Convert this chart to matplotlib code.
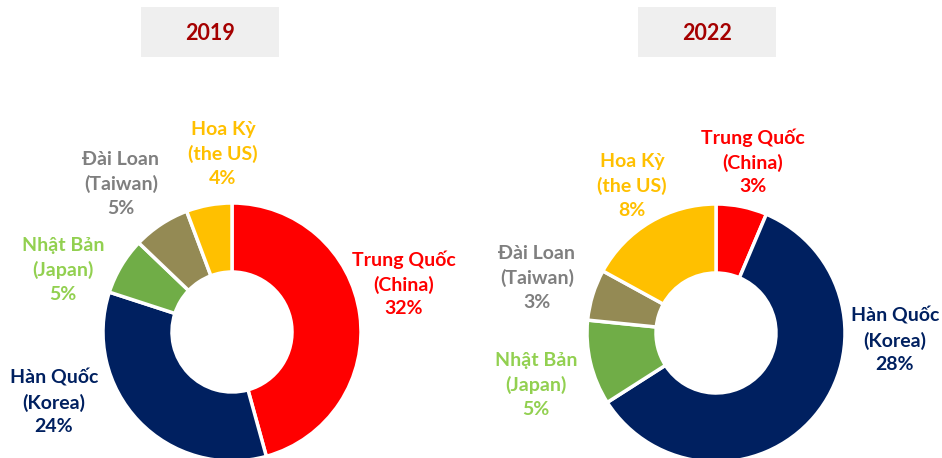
import matplotlib
matplotlib.use("Agg")
import matplotlib.pyplot as plt
from matplotlib.patches import Rectangle

plt.rcParams['font.family'] = ['Lato', 'Open Sans', 'DejaVu Sans']

# data
countries = ["Trung Quốc\n(China)", "Hàn Quốc\n(Korea)", "Nhật Bản\n(Japan)",
             "Đài Loan\n(Taiwan)", "Hoa Kỳ\n(the US)"]
share_2019 = [32, 24, 5, 5, 4]
share_2022 = [3, 28, 5, 3, 8]
years = ["2019", "2022"]

slice_colors = ["#FF0000", "#002060", "#70AD47", "#948A54", "#FFC000"]
label_colors = ["#FF0000", "#002060", "#92D050", "#7F7F7F", "#FFC000"]

# layout in pixel units (y measured from the bottom)
W, H = 942, 458
centers = [(232, H - 332), (716, H - 333)]
RADIUS = 129
HOLE = 60
# label centers (middle line) for each donut
label_pos_2019 = [(404, 284), (54, 402), (63, 270), (121, 184), (223, 154)]
label_pos_2022 = [(753, 162), (895, 340), (536, 385), (537, 278), (632, 186)]
title_boxes = [(141, 279), (638, 776)]


def draw_donut(ax, values, center, label_pos):
    ax.pie(values, colors=slice_colors, startangle=90, counterclock=False,
           center=center, radius=RADIUS, frame=True,
           wedgeprops=dict(width=RADIUS - HOLE, edgecolor="white", linewidth=2.5))
    for name, val, col, (x, y) in zip(countries, values, label_colors, label_pos):
        ax.text(x, H - y, f"{name}\n{val}%", color=col, ha="center", va="center",
                fontsize=14, fontweight="bold", linespacing=1.45)


def main():
    fig = plt.figure(figsize=(W / 100, H / 100), dpi=100)
    ax = fig.add_axes([0, 0, 1, 1])

    draw_donut(ax, share_2019, centers[0], label_pos_2019)
    draw_donut(ax, share_2022, centers[1], label_pos_2022)

    for year, (x0, x1) in zip(years, title_boxes):
        ax.add_patch(Rectangle((x0, H - 57), x1 - x0, 50, facecolor="#EFEFEF",
                               edgecolor="none"))
        ax.text((x0 + x1) / 2, H - 33, year, color="#A50000", ha="center",
                va="center", fontsize=15.5, fontweight="bold")

    ax.set_xlim(0, W)
    ax.set_ylim(0, H)
    ax.set_aspect("auto")
    ax.axis("off")
    fig.savefig("out.png", dpi=100, facecolor="white")


if __name__ == "__main__":
    main()
